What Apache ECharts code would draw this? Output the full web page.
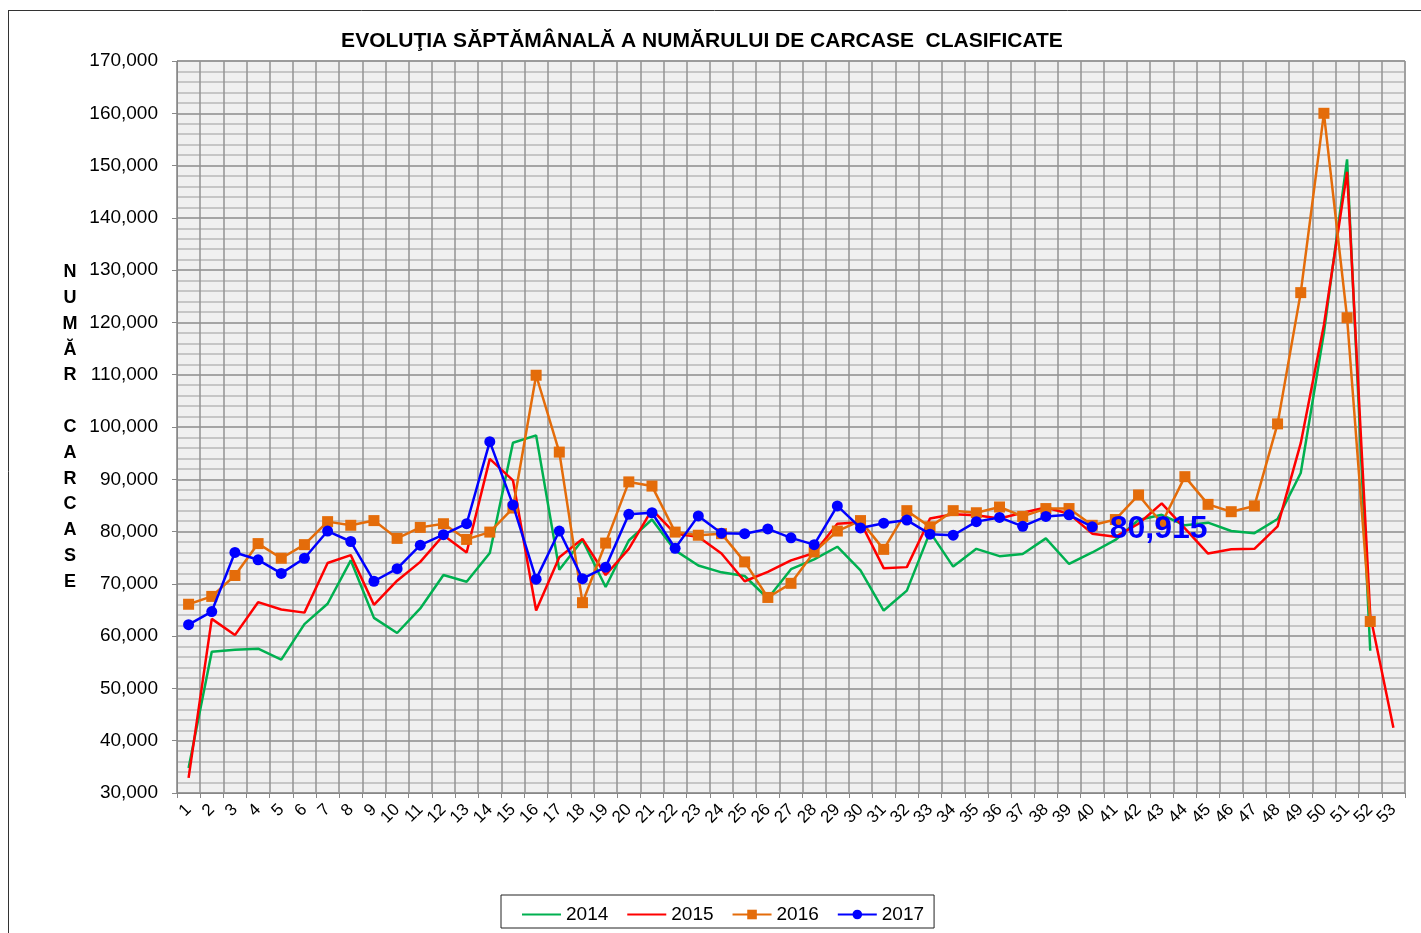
<!DOCTYPE html>
<html>
<head>
<meta charset="utf-8">
<script src="https://cdn.jsdelivr.net/npm/echarts@6/dist/echarts.min.js"></script>
<style>
html,body{margin:0;padding:0;background:#fff;}
#chart{width:1421px;height:933px;}
</style>
</head>
<body>
<div id="chart"></div>
<script>
const weeks = ['1','2','3','4','5','6','7','8','9','10','11','12','13','14','15','16','17','18','19','20','21','22','23','24','25','26','27','28','29','30','31','32','33','34','35','36','37','38','39','40','41','42','43','44','45','46','47','48','49','50','51','52','53'];

const y2014 = [34800,57000,57400,57600,55500,62300,66200,74500,63500,60600,65300,71700,70400,75900,97000,98400,72700,78400,69400,78300,82300,76400,73500,72200,71500,67200,72800,74700,77100,72600,64900,68700,79900,73300,76700,75300,75700,78700,73800,76000,78400,82200,83200,81200,81700,80100,79700,82400,91200,118000,151200,57200];

const y2015 = [32900,63300,60200,66500,65100,64500,74000,75500,66000,70600,74200,79300,76000,93900,89800,64900,75100,78600,71700,76700,84200,79600,79000,75800,70500,72300,74500,75900,81500,81800,73000,73200,82500,83300,83100,82500,83600,84600,83400,79600,79000,81500,85400,80600,75800,76600,76700,81000,96900,119500,148800,64000,42500];

const y2016 = [66100,67600,71600,77700,74900,77500,81900,81200,82100,78700,80800,81500,78500,79900,84500,109900,95200,66400,77800,89500,88700,79900,79300,79600,74200,67400,70100,76100,80100,82100,76600,84000,80900,84000,83600,84700,82900,84400,84400,81200,82300,87000,81600,90500,85200,83800,84900,100600,125700,160000,120900,62800];

const y2017 = [62200,64700,76000,74600,72000,74900,80100,78100,70500,72900,77400,79400,81500,97200,85100,70900,80100,71000,73200,83300,83600,76800,83000,79700,79600,80500,78800,77500,84900,80700,81600,82200,79500,79300,81900,82700,81000,82900,83200,80915];

const seriesNames = ['2014','2015','2016','2017'];
const yTitle = 'N\nU\nM\nĂ\nR\n\nC\nA\nR\nC\nA\nS\nE';
const chartTitle = 'EVOLUŢIA SĂPTĂMÂNALĂ A NUMĂRULUI DE CARCASE  CLASIFICATE';

function fmt(v){ return String(v).replace(/\B(?=(\d{3})+(?!\d))/g, ','); }

const font = 'Liberation Sans, Arial, sans-serif';

const last2017 = y2017.map((v, i) => i === y2017.length - 1 ? {
  value: v,
  label: {
    show: true, position: 'right', distance: 12,
    formatter: p => fmt(p.value),
    fontSize: 32, fontWeight: 'bold', color: '#0000ff', fontFamily: font,
    offset: [0, 2]
  }
} : v);

const chart = echarts.init(document.getElementById('chart'), null, {renderer: 'canvas'});
chart.setOption({
  animation: false,
  backgroundColor: '#ffffff',
  textStyle: {fontFamily: font},
  title: {
    text: chartTitle,
    left: 697, top: 26, textAlign: 'center',
    textStyle: {fontSize: 21, fontWeight: 'bold', color: '#000', fontFamily: font}
  },
  graphic: [
    {type: 'line', shape: {x1: 8, y1: 10.5, x2: 1421, y2: 10.5}, style: {stroke: '#333', lineWidth: 1}, silent: true},
    {type: 'line', shape: {x1: 8.5, y1: 10, x2: 8.5, y2: 933}, style: {stroke: '#333', lineWidth: 1}, silent: true}
  ],
  legend: {
    data: [
      {name: '2014', itemStyle: {opacity: 0}},
      {name: '2015', itemStyle: {opacity: 0}},
      {name: '2016'},
      {name: '2017'}
    ],
    left: 501, top: 895,
    orient: 'horizontal',
    borderColor: '#222', borderWidth: 1,
    padding: [10, 10, 4, 20],
    itemGap: 18, itemWidth: 39, itemHeight: 12,
    textStyle: {fontSize: 19, color: '#000', fontFamily: font}
  },
  grid: {
    left: 177, right: 16, top: 61, bottom: 140,
    show: true, backgroundColor: '#f0f0f0', borderColor: '#999', borderWidth: 1,
    containLabel: false
  },
  xAxis: {
    type: 'category',
    data: weeks,
    boundaryGap: true,
    axisLine: {lineStyle: {color: '#888', width: 1}},
    axisTick: {show: true, length: 5, interval: 0, lineStyle: {color: '#888'}},
    axisLabel: {interval: 0, rotate: 45, fontSize: 17, color: '#000', margin: 14, fontFamily: font},
    splitLine: {show: true, interval: 0, lineStyle: {color: '#939393', width: 1.5}}
  },
  yAxis: {
    type: 'value',
    min: 30000, max: 170000, interval: 10000,
    name: yTitle,
    nameLocation: 'middle',
    nameGap: 107,
    nameRotate: 0,
    nameTextStyle: {fontSize: 18, fontWeight: 'bold', color: '#000', lineHeight: 25.8, align: 'center', verticalAlign: 'middle', fontFamily: font, padding: [6, 0, 0, 0]},
    axisLine: {show: true, lineStyle: {color: '#888', width: 1}},
    axisTick: {show: true, length: 5, lineStyle: {color: '#888'}},
    axisLabel: {formatter: v => fmt(v), fontSize: 19, color: '#000', margin: 19, fontFamily: font},
    splitLine: {show: true, lineStyle: {color: '#8c8c8c', width: 1.5}},
    minorTick: {show: false, splitNumber: 5},
    minorSplitLine: {show: true, lineStyle: {color: '#c6c6c6', width: 2}}
  },
  series: [
    {name: '2014', type: 'line', data: y2014, symbol: 'none', lineStyle: {color: '#00b050', width: 2.5}, itemStyle: {color: '#00b050'}, z: 2},
    {name: '2015', type: 'line', data: y2015, symbol: 'none', lineStyle: {color: '#ff0000', width: 2.5}, itemStyle: {color: '#ff0000'}, z: 3},
    {name: '2016', type: 'line', data: y2016, symbol: 'rect', symbolSize: 11, showAllSymbol: true, lineStyle: {color: '#e46c0a', width: 2.5}, itemStyle: {color: '#e46c0a'}, z: 4},
    {name: '2017', type: 'line', data: last2017, symbol: 'circle', symbolSize: 11, showAllSymbol: true, lineStyle: {color: '#0000ff', width: 2.5}, itemStyle: {color: '#0000ff'}, z: 5}
  ]
});
</script>
</body>
</html>
